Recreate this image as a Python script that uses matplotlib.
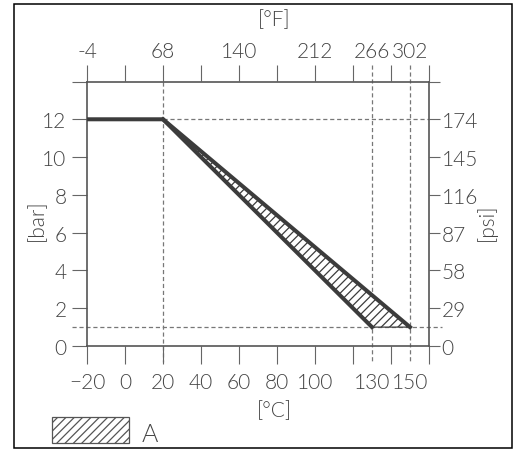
import matplotlib
matplotlib.use("Agg")
import matplotlib.pyplot as plt
from matplotlib.patches import Polygon, Rectangle

# data
temp_upper = [-20, 20, 150]      # °C
bar_upper = [12, 12, 1]
temp_lower = [20, 130]
bar_lower = [12, 1]

c_ticks = [-20, 0, 20, 40, 60, 80, 100, 120, 140, 160]
c_labels = ["\u221220", "0", "20", "40", "60", "80", "100", "", "", ""]
c_extra = [130, 150]
f_labels = ["-4", "", "68", "", "140", "", "212", "", "", ""]
f_extra = ["266", "302"]
bar_ticks = [0, 2, 4, 6, 8, 10, 12, 14]
bar_labels = ["0", "2", "4", "6", "8", "10", "12", ""]
psi_labels = ["0", "29", "58", "87", "116", "145", "174", ""]

# guide lines (dashed)
v_guides = [(20, 14, -0.85), (130, 14.85, -0.85), (150, 14.85, -0.85)]
h_guides = [(12, 20, 160), (1, -27.9, 166.8)]

plt.rcParams['font.family'] = ['Lato', 'DejaVu Sans']
plt.rcParams['font.weight'] = 300
plt.rcParams['lines.scale_dashes'] = False
plt.rcParams['hatch.linewidth'] = 0.9
txt = '#444444'
ln = '#3c3c3c'

fig = plt.figure(figsize=(5.2, 4.52), dpi=100)
ax = fig.add_axes([87/520, 105/452, 342/520, 264.5/452])
ax.set_xlim(-20, 160)
ax.set_ylim(0, 14)

for s in ax.spines.values():
    s.set_color('#555555')
    s.set_linewidth(1.2)

ax.set_xticks(c_ticks, c_labels)
ax.set_xticks(c_extra, [str(c) for c in c_extra], minor=True)
ax.set_yticks(bar_ticks, bar_labels)
ax.tick_params(axis='x', which='major', direction='out', length=13, width=0.8,
               color='#666666', pad=6, labelsize=15, labelcolor=txt)
ax.tick_params(axis='x', which='minor', length=0, pad=6 + 13, labelsize=15, labelcolor=txt)
ax.tick_params(axis='y', direction='out', length=10.8, width=0.8,
               color='#666666', pad=4, labelsize=15, labelcolor=txt)

top = ax.secondary_xaxis('top', functions=(lambda c: c * 1.8 + 32, lambda f: (f - 32) / 1.8))
top.set_xticks([c * 1.8 + 32 for c in c_ticks], f_labels)
top.set_xticks([float(v) for v in f_extra], f_extra, minor=True)
top.tick_params(which='major', direction='out', length=11.5, width=0.8,
                color='#666666', pad=3, labelsize=15, labelcolor=txt)
top.tick_params(which='minor', length=0, pad=3 + 11.5, labelsize=15, labelcolor=txt)
top.spines['top'].set_visible(False)

right = ax.secondary_yaxis('right', functions=(lambda b: b * 14.5, lambda p: p / 14.5))
right.set_yticks([b * 14.5 for b in bar_ticks], psi_labels)
right.tick_params(direction='out', length=8, width=0.8, color='#666666',
                  pad=1, labelsize=15, labelcolor=txt)
right.spines['right'].set_visible(False)

for x, y0, y1 in v_guides:
    ax.plot([x, x], [y0, y1], color='#777777', lw=0.9, dashes=(3, 2), clip_on=False, zorder=1)
for y, x0, x1 in h_guides:
    ax.plot([x0, x1], [y, y], color='#777777', lw=0.9, dashes=(3, 2), clip_on=False, zorder=1)

tri = Polygon(list(zip([20, 150, 130], [12, 1, 1])), closed=True, facecolor='white',
              edgecolor=ln, hatch='////', lw=0.9, zorder=2)
ax.add_patch(tri)
ax.plot(temp_upper, bar_upper, color=ln, lw=2.9, solid_joinstyle='miter', zorder=3)
ax.plot(temp_lower, bar_lower, color=ln, lw=2.9, zorder=3)

fig.text(274/520, 1 - 411/452, "[°C]", ha='center', va='center', fontsize=15, color=txt)
fig.text(274/520, 1 - 20/452, "[°F]", ha='center', va='center', fontsize=15, color=txt)
fig.text(37/520, 1 - 220/452, "[bar]", ha='center', va='center', rotation=90, fontsize=15, color=txt)
fig.text(486/520, 1 - 222/452, "[psi]", ha='center', va='center', rotation=90, fontsize=15, color=txt)

# legend
fig.patches.append(Rectangle((52/520, 8/452), 77/520, 26/452, transform=fig.transFigure,
                             facecolor='white', edgecolor='#555555', hatch='////', lw=0.9))
fig.text(142/520, 10/452, "A", ha='left', va='baseline', fontsize=18, color=txt)

# outer frame
fig.patches.append(Rectangle((14/520, 3/452), 498/520, 444/452, transform=fig.transFigure,
                             fill=False, edgecolor='black', lw=1.1))

fig.savefig("out.png", dpi=100)
